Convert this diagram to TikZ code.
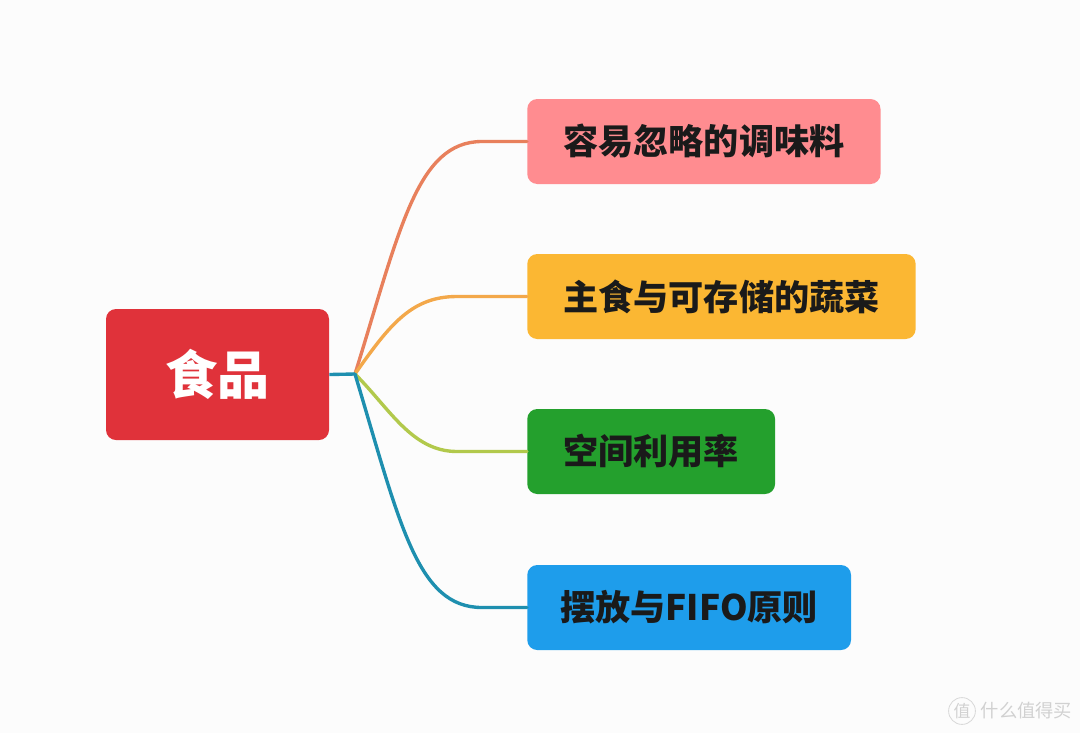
\documentclass[tikz,border=0pt]{standalone}
\usepackage{fontspec}
\setmainfont{Noto Sans CJK SC}
\newfontfamily\cjk{Noto Sans CJK SC}
\usetikzlibrary{calc}
\definecolor{rootred}{HTML}{E0323A}
\definecolor{boxpink}{HTML}{FF8C90}
\definecolor{boxamber}{HTML}{FBB733}
\definecolor{boxgreen}{HTML}{24A02D}
\definecolor{boxblue}{HTML}{1E9DEB}
\definecolor{lineone}{HTML}{E8805C}
\definecolor{linetwo}{HTML}{F3A84A}
\definecolor{linethree}{HTML}{B2C94C}
\definecolor{linefour}{HTML}{1E8FAF}
\definecolor{inkdark}{HTML}{1A1A1A}
\begin{document}
\begin{tikzpicture}[x=0.025cm,y=-0.025cm,
	topic/.style={rounded corners=0.25cm, anchor=west, minimum height=85*0.025cm,
		inner xsep=36*0.025cm, text=inkdark, font=\cjk\bfseries\fontsize{25}{30}\selectfont},
	branch/.style={line width=2.4pt, line cap=round}]
	% Page
	\fill [white!99!black] (0,0) rectangle (1080,733);
	\useasboundingbox (0,0) rectangle (1080,733);
	% Nodes
	\node [rounded corners=0.25cm, fill=rootred, text=white, minimum width=223*0.025cm,
		minimum height=131*0.025cm, font=\cjk\bfseries\fontsize{37}{44}\selectfont] (root) at (217.5,374.5) {食品};
	\coordinate (hub) at (355,374);
	\node [topic, fill=boxpink] (seasoning) at (527,141.5) {容易忽略的调味料};
	\node [topic, fill=boxamber] (staple) at (527,296.5) {主食与可存储的蔬菜};
	\node [topic, fill=boxgreen] (space) at (527,451.5) {空间利用率};
	\node [topic, fill=boxblue, inner xsep=33*0.025cm] (fifo) at (527,607.5) {摆放与FIFO原则};
	% Branches
	\draw [branch, lineone] (hub) .. controls +(45,-145) and +(-65,0) .. ($(seasoning.west)+(-45,0)$) -- (seasoning.west);
	\draw [branch, linetwo] (hub) .. controls +(35,-50) and +(-45,0) .. ($(staple.west)+(-70,0)$) -- (staple.west);
	\draw [branch, linethree] (hub) .. controls +(35,35) and +(-45,0) .. ($(space.west)+(-70,0)$) -- (space.west);
	\draw [branch, linefour] (hub) .. controls +(45,150) and +(-65,0) .. ($(fifo.west)+(-45,0)$) -- (fifo.west);
	\draw [branch, linefour, line cap=butt] (root.east) -- (hub);
	% Watermark
	\node [circle, draw=black!15, line width=0.6pt, inner sep=1pt, text=black!18,
		font=\cjk\fontsize{12}{14}\selectfont] (mark) at (962,711) {值};
	\node [anchor=west, text=black!18, font=\cjk\fontsize{13}{15}\selectfont] (site) at (mark.east) {什么值得买};
\end{tikzpicture}
\end{document}
